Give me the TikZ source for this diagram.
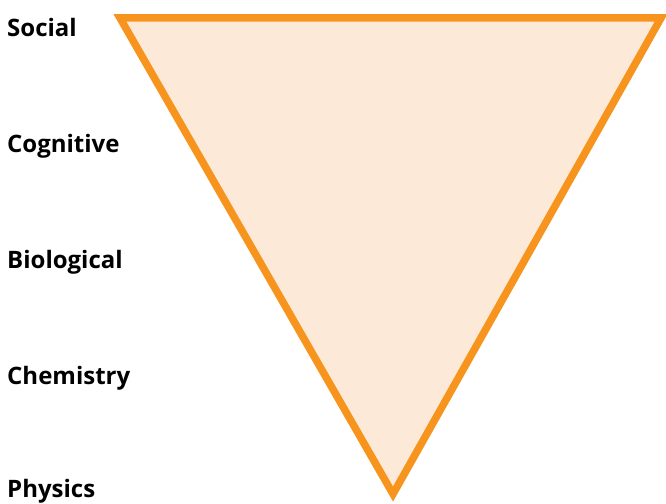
\documentclass[tikz,border=0pt]{standalone}
\usepackage{fontspec}
\setmainfont{Open Sans}
\definecolor{tri}{HTML}{F7941D}
\definecolor{trifill}{HTML}{FDE9D7}
\begin{document}
\begin{tikzpicture}[x=1pt,y=-1pt,
  lab/.style={anchor=base west,inner sep=0pt,font=\fontsize{24}{24}\selectfont\bfseries}]
\useasboundingbox (0,0) rectangle (666,503);
\coordinate (tl) at (120,18);
\coordinate (tr) at (661,18);
\coordinate (ap) at (393,494);
\draw[tri,fill=trifill,line width=7.5pt,line join=miter] (tl) -- (tr) -- (ap) -- cycle;
\node[lab] (social) at (7,37) {Social};
\node[lab] (cog) at (7,152) {Cognitive};
\node[lab] (bio) at (7,268) {Biological};
\node[lab] (chem) at (7,384) {Chemistry};
\node[lab] (phys) at (7,497) {Physics};
\end{tikzpicture}
\end{document}
